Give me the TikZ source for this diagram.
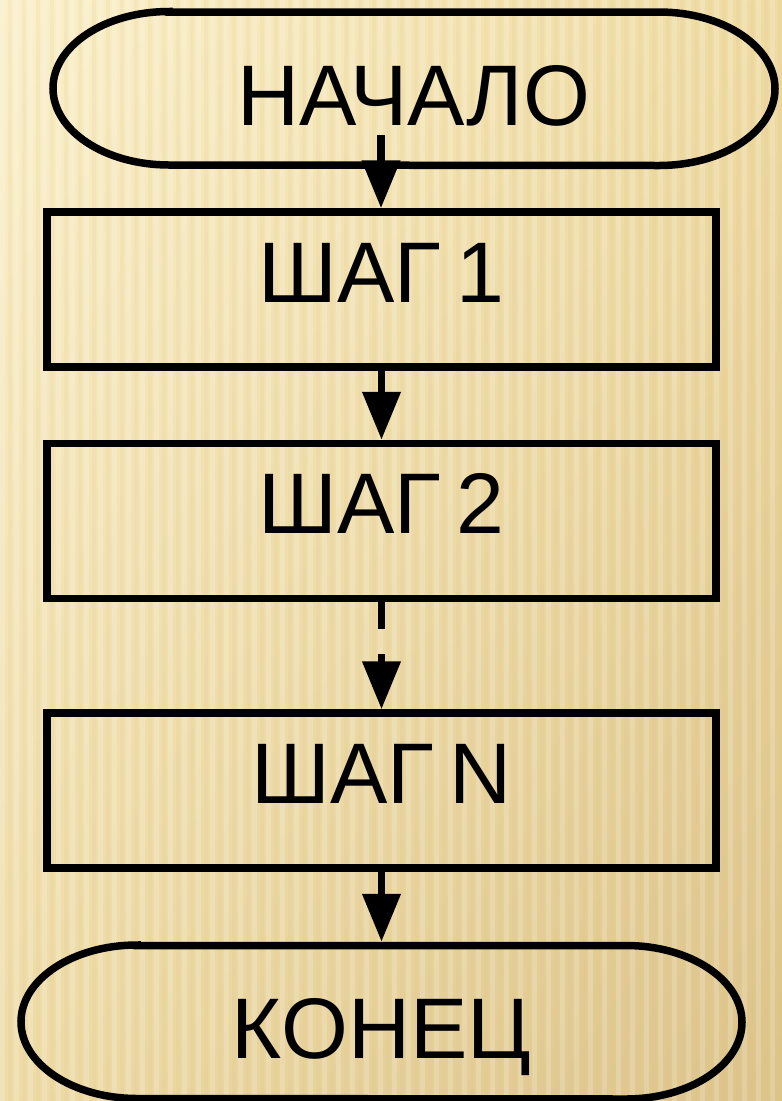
\documentclass[tikz,border=0pt]{standalone}
\usepackage{fontspec}
\setmainfont{Liberation Sans}
\usetikzlibrary{arrows.meta,calc,shadings}
\definecolor{bgUL}{HTML}{FBF0CA}
\definecolor{bgUR}{HTML}{EFDBA2}
\definecolor{bgLL}{HTML}{EEDBA6}
\definecolor{bgLR}{HTML}{DCC38A}
\newcommand{\wsp}{\hspace{15pt}}
\begin{document}
\begin{tikzpicture}[x=1pt,y=-1pt,
  lw/.style={line width=7.5pt},
  stepbox/.style={lw, draw=black, rectangle, inner sep=0pt, outer sep=3.75pt,
    minimum width=669pt, minimum height=155pt,
    font=\fontsize{86}{90}\selectfont, text height=62pt, text depth=37pt},
  term/.style={rectangle, inner sep=0pt, outer sep=3.75pt,
    minimum height=153pt,
    font=\fontsize{86}{90}\selectfont, text height=73pt, text depth=0pt},
  arr/.style={lw, line cap=butt, -{Triangle[width=37pt,length=48pt]}},
]
\useasboundingbox (0,0) rectangle (782,1101);
% background
\shade[upper left=bgUL, upper right=bgUR, lower left=bgLL, lower right=bgLR]
  (0,0) rectangle (782,1101);
\foreach \x in {0,14,...,782} {
  \fill[white, opacity=0.18] (\x,0) rectangle ++(5,1101);
  \fill[bgLR, opacity=0.12] (\x+8,0) rectangle ++(4,1101);
}

% nodes
\node[term, minimum width=722pt] (start) at (414,88.5) {НАЧАЛО};
\node[stepbox] (s1) at (381.5,289.5) {ШАГ\wsp1};
\node[stepbox] (s2) at (381.5,521) {ШАГ\wsp2};
\node[stepbox] (sN) at (381.5,790.5) {ШАГ\wsp N};
\node[term, minimum width=721pt] (stop) at (381.5,1022) {КОНЕЦ};

% terminal outlines (flowchart terminator shape)
\draw[lw] ($(start.north west)+(116+3.75,3.75)$) -- ($(start.north east)+(-116-3.75,3.75)$)
  arc[start angle=90, end angle=-90, x radius=116pt, y radius=76.75pt]
  -- ($(start.south west)+(116+3.75,-3.75)$)
  arc[start angle=270, end angle=90, x radius=116pt, y radius=76.75pt] -- cycle;
\draw[lw] ($(stop.north west)+(116+3.75,3.75)$) -- ($(stop.north east)+(-116-3.75,3.75)$)
  arc[start angle=90, end angle=-90, x radius=116pt, y radius=76.75pt]
  -- ($(stop.south west)+(116+3.75,-3.75)$)
  arc[start angle=270, end angle=90, x radius=116pt, y radius=76.75pt] -- cycle;

% connectors
\coordinate (a0) at (381,135);
\draw[arr] (a0) -- (a0 |- s1.north);
\draw[arr] (s1.south) -- (s2.north);
\draw[arr, dash pattern=on 27pt off 25pt on 200pt] (s2.south) -- (sN.north);
\draw[arr] (sN.south) -- (sN.south |- stop.north);
\end{tikzpicture}
\end{document}
